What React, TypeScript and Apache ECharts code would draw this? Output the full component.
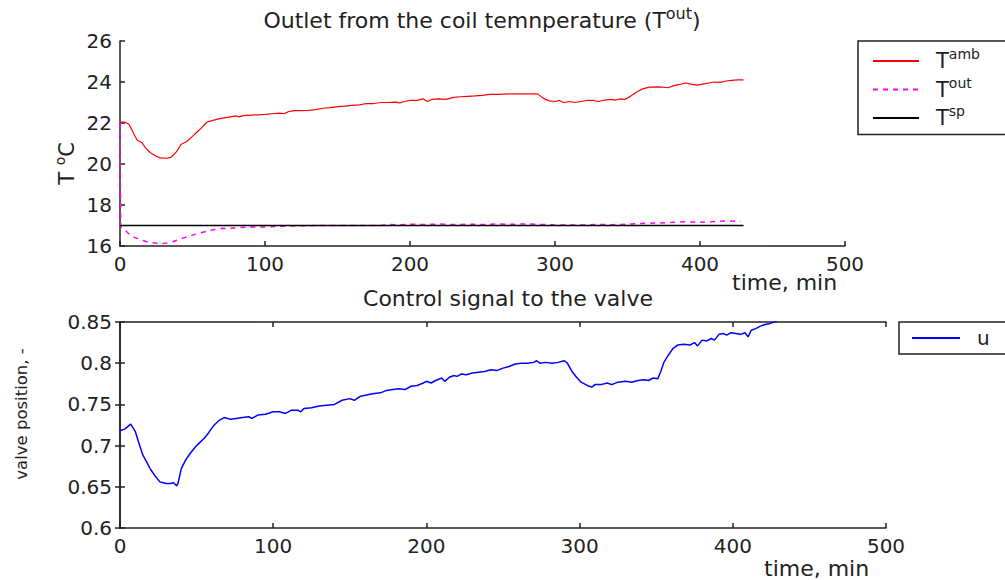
import React, { useEffect, useRef } from "react";
import * as echarts from "echarts";

// ---- data ----
const tAmb: [number, number][] = [
  [0, 22.05], [3, 22.05], [6, 21.95], [8, 21.7], [10, 21.4], [12, 21.15], [15, 21.05], [18, 20.75], [21, 20.55], [25, 20.38],
  [28, 20.3], [32, 20.28], [35, 20.32], [37, 20.45], [39, 20.6], [42, 20.95], [46, 21.1], [50, 21.35], [53, 21.55], [56, 21.75],
  [60, 22.05], [63, 22.1], [68, 22.2], [72, 22.25], [76, 22.3], [80, 22.35], [82, 22.3], [85, 22.36], [90, 22.38], [95, 22.4],
  [100, 22.42], [105, 22.45], [110, 22.48], [113, 22.45], [116, 22.55], [120, 22.6], [125, 22.6], [130, 22.62], [135, 22.65],
  [140, 22.72], [145, 22.75], [150, 22.8], [155, 22.82], [160, 22.86], [165, 22.88], [170, 22.95], [175, 22.95], [180, 23.0],
  [185, 23.0], [190, 23.02], [193, 22.98], [196, 23.05], [200, 23.1], [205, 23.1], [209, 23.18], [212, 23.05], [215, 23.15],
  [220, 23.18], [225, 23.15], [230, 23.25], [235, 23.28], [240, 23.3], [245, 23.32], [250, 23.35], [255, 23.4], [260, 23.4],
  [270, 23.42], [280, 23.42], [288, 23.42], [292, 23.2], [296, 23.08], [300, 23.05], [303, 23.1], [306, 23.0], [310, 23.05],
  [314, 23.0], [318, 23.05], [322, 23.1], [326, 23.1], [330, 23.05], [334, 23.12], [338, 23.15], [342, 23.12], [345, 23.18],
  [348, 23.15], [352, 23.3], [356, 23.5], [360, 23.65], [365, 23.75], [372, 23.76], [378, 23.72], [382, 23.82], [386, 23.88],
  [390, 23.95], [394, 23.9], [398, 23.85], [402, 23.9], [406, 23.95], [410, 24.0], [414, 23.98], [418, 24.05], [422, 24.08],
  [426, 24.1], [430, 24.1],
];

const tOut: [number, number][] = [
  [0, 22.0], [0.5, 17.0], [1, 16.9], [3, 16.8], [6, 16.6], [10, 16.42], [15, 16.28], [20, 16.18], [25, 16.13], [30, 16.12],
  [35, 16.18], [40, 16.3], [45, 16.42], [50, 16.53], [55, 16.63], [60, 16.72], [65, 16.8], [70, 16.86], [75, 16.85], [80, 16.9],
  [90, 16.92], [100, 16.93], [110, 16.96], [120, 16.98], [130, 16.99], [140, 17.0], [150, 17.0], [160, 17.0], [180, 17.0],
  [185, 17.05], [190, 17.03], [200, 17.06], [210, 17.05], [220, 17.07], [230, 17.05], [240, 17.06], [250, 17.05], [260, 17.07],
  [270, 17.06], [280, 17.08], [290, 17.05], [300, 17.03], [310, 17.02], [320, 17.03], [330, 17.05], [340, 17.04], [350, 17.06],
  [360, 17.1], [370, 17.12], [380, 17.15], [390, 17.18], [400, 17.16], [410, 17.2], [420, 17.22], [428, 17.2],
];

const tSp: [number, number][] = [[0, 17], [430, 17]];

const uValve: [number, number][] = [
  [0, 0.718], [3, 0.72], [7, 0.726], [10, 0.717], [12, 0.705], [15, 0.688], [18, 0.678], [20, 0.671], [23, 0.663], [26, 0.656],
  [30, 0.654], [33, 0.654], [35, 0.655], [37, 0.651], [38, 0.655], [40, 0.672], [43, 0.683], [46, 0.691], [50, 0.7], [55, 0.709],
  [58, 0.716], [61, 0.724], [65, 0.731], [68, 0.734], [72, 0.732], [76, 0.733], [80, 0.734], [84, 0.735], [86, 0.733], [90, 0.737],
  [95, 0.738], [100, 0.741], [104, 0.741], [108, 0.739], [112, 0.743], [116, 0.743], [118, 0.741], [120, 0.745], [125, 0.746],
  [130, 0.748], [135, 0.749], [140, 0.75], [145, 0.755], [150, 0.757], [153, 0.755], [157, 0.76], [160, 0.761], [165, 0.763],
  [170, 0.764], [174, 0.767], [178, 0.768], [182, 0.769], [186, 0.768], [190, 0.772], [194, 0.773], [198, 0.776], [200, 0.778],
  [203, 0.776], [206, 0.779], [210, 0.782], [212, 0.778], [215, 0.783], [218, 0.785], [220, 0.784], [223, 0.787], [226, 0.786],
  [230, 0.788], [234, 0.789], [238, 0.79], [242, 0.792], [246, 0.791], [250, 0.794], [254, 0.796], [258, 0.799], [262, 0.8],
  [266, 0.8], [270, 0.801], [272, 0.803], [274, 0.8], [278, 0.801], [282, 0.8], [286, 0.801], [290, 0.803], [292, 0.8],
  [295, 0.79], [298, 0.783], [301, 0.777], [305, 0.773], [308, 0.771], [310, 0.774], [314, 0.774], [318, 0.776], [321, 0.774],
  [325, 0.777], [330, 0.778], [334, 0.777], [338, 0.779], [342, 0.78], [345, 0.779], [348, 0.782], [351, 0.781], [353, 0.79],
  [355, 0.801], [358, 0.81], [361, 0.818], [364, 0.822], [368, 0.823], [372, 0.822], [375, 0.825], [377, 0.821], [380, 0.828],
  [383, 0.827], [386, 0.83], [388, 0.828], [391, 0.835], [394, 0.836], [396, 0.834], [399, 0.837], [402, 0.836], [405, 0.835],
  [408, 0.837], [410, 0.832], [412, 0.84], [415, 0.842], [418, 0.845], [421, 0.847], [424, 0.848], [427, 0.85], [429, 0.851],
];

const FONT = "DejaVu Sans";
const AX = "#222";

export default function App() {
  const ref = useRef<HTMLDivElement>(null);
  useEffect(() => {
    document.body.style.margin = "0";
    const chart = echarts.init(ref.current!, null, { renderer: "svg" });
    const sup = { fontSize: 14, fontFamily: FONT, color: "#222", padding: [0, 0, 14, 0] };
    const supT = { fontSize: 16, fontFamily: FONT, color: "#222", padding: [0, 0, 15, 0] };
    const axisCommon = {
      axisLine: { show: true, lineStyle: { color: AX, width: 1.5 } },
      axisTick: { show: true, inside: true, length: 5, lineStyle: { color: AX, width: 1.5 } },
      axisLabel: { color: "#222", fontSize: 20, fontFamily: FONT },
      splitLine: { show: false },
    };
    chart.setOption({
      animation: false,
      backgroundColor: "#fff",
      textStyle: { fontFamily: FONT },
      title: [
        {
          text: "Outlet from the coil temnperature (T{s|out})",
          left: 477,
          top: 0,
          textAlign: "center",
          textStyle: { fontSize: 22, fontWeight: "normal", color: "#222", fontFamily: FONT, rich: { s: supT } },
        },
        {
          text: "Control signal to the valve",
          left: 503,
          top: 282,
          textAlign: "center",
          textStyle: { fontSize: 22, fontWeight: "normal", color: "#222", fontFamily: FONT },
        },
      ],
      legend: [
        {
          data: ["Tamb", "Tout", "Tsp"],
          orient: "vertical",
          left: 858,
          top: 41,
          padding: [6, 90, 6, 14],
          itemGap: 4,
          itemWidth: 46,
          itemHeight: 14,
          borderColor: AX,
          borderWidth: 1.5,
          selectedMode: false,
          itemStyle: { opacity: 0 },
          formatter: (n: string) => "T{s|" + n.slice(1) + "}",
          textStyle: { fontSize: 21, color: "#222", fontFamily: FONT, padding: [0, 0, 0, 12], rich: { s: sup } },
        },
        {
          data: ["u"],
          orient: "vertical",
          left: 899,
          top: 322,
          padding: [6, 90, 6, 12],
          itemWidth: 48,
          itemHeight: 14,
          borderColor: AX,
          borderWidth: 1.5,
          selectedMode: false,
          itemStyle: { opacity: 0 },
          textStyle: { fontSize: 20, color: "#222", fontFamily: FONT, padding: [0, 0, 0, 12] },
        },
      ],
      grid: [
        { left: 120, top: 41, width: 725, height: 205 },
        { left: 120, top: 322, width: 766, height: 206 },
      ],
      xAxis: [
        {
          ...axisCommon,
          type: "value",
          gridIndex: 0,
          min: 0,
          max: 500,
          interval: 100,
          name: "time, min",
          nameLocation: "end",
          nameGap: -113,
          nameMoveOverlap: false,
          nameTextStyle: { verticalAlign: "top", fontSize: 22, color: "#222", fontFamily: FONT, padding: [25, 0, 0, 0] },
        },
        {
          ...axisCommon,
          type: "value",
          gridIndex: 1,
          min: 0,
          max: 500,
          interval: 100,
          name: "time, min",
          nameLocation: "end",
          nameGap: -122,
          nameMoveOverlap: false,
          nameTextStyle: { verticalAlign: "top", fontSize: 22, color: "#222", fontFamily: FONT, padding: [29, 0, 0, 0] },
        },
        {
          ...axisCommon,
          type: "value",
          gridIndex: 1,
          position: "top",
          min: 0,
          max: 500,
          interval: 100,
          axisLabel: { show: false },
        },
      ],
      yAxis: [
        {
          ...axisCommon,
          type: "value",
          gridIndex: 0,
          min: 16,
          max: 26,
          interval: 2,
          name: "T {s|o}C",
          nameLocation: "middle",
          nameRotate: 90,
          nameGap: 39,
          nameMoveOverlap: false,
          nameTextStyle: { fontSize: 21, color: "#222", fontFamily: FONT, padding: [0, 40, 0, 0], rich: { s: sup } },
        },
        {
          ...axisCommon,
          type: "value",
          gridIndex: 1,
          min: 0.6,
          max: 0.85,
          interval: 0.05,
          name: "valve position, -",
          nameLocation: "middle",
          nameRotate: 90,
          nameGap: 90,
          nameMoveOverlap: false,
          nameTextStyle: { fontSize: 16.5, color: "#222", fontFamily: FONT, padding: [0, 0, 0, 22] },
        },
        {
          ...axisCommon,
          type: "value",
          gridIndex: 1,
          position: "right",
          min: 0.6,
          max: 0.85,
          interval: 0.05,
          axisLabel: { show: false },
        },
      ],
      series: [
        {
          name: "Tamb",
          type: "line",
          xAxisIndex: 0,
          yAxisIndex: 0,
          data: tAmb,
          symbol: "none",
          lineStyle: { color: "#ff0000", width: 1.2 },
          itemStyle: { color: "#ff0000" },
        },
        {
          name: "Tout",
          type: "line",
          xAxisIndex: 0,
          yAxisIndex: 0,
          data: tOut,
          symbol: "none",
          lineStyle: { color: "#ff00ff", width: 1.5, type: [5, 5] },
          itemStyle: { color: "#ff00ff" },
        },
        {
          name: "Tsp",
          type: "line",
          xAxisIndex: 0,
          yAxisIndex: 0,
          data: tSp,
          symbol: "none",
          lineStyle: { color: "#000", width: 1.5 },
          itemStyle: { color: "#000" },
        },
        {
          name: "u",
          type: "line",
          xAxisIndex: 1,
          yAxisIndex: 1,
          data: uValve,
          symbol: "none",
          lineStyle: { color: "#0000ff", width: 1.5 },
          itemStyle: { color: "#0000ff" },
        },
      ],
    });
    return () => chart.dispose();
  }, []);
  return <div ref={ref} style={{ width: 1005, height: 580 }} />;
}
